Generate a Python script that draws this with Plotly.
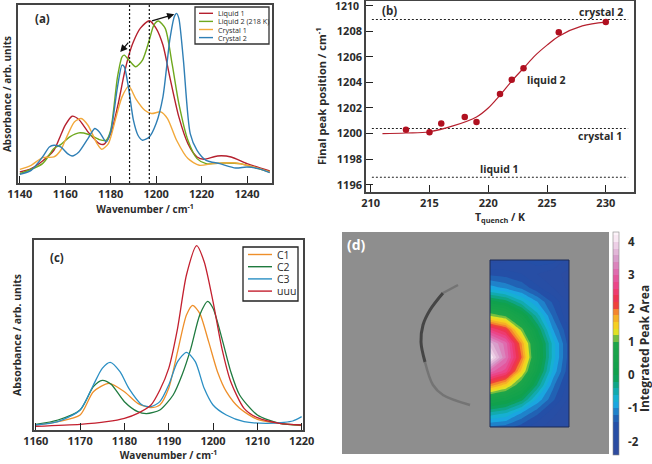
import plotly.graph_objects as go

W, H = 652, 464
FONT = "Open Sans"
INK = "#2b2b2b"

# ---------- panel (a)
a_x_l1 = [1140,1145,1150,1155,1158,1160,1163,1166,1170,1175,1177,1180,1183,1186,1188,1190,1193,1197,1200,1203,1206,1210,1214,1218,1221,1227,1233,1240,1250]
a_y_l1 = [33,43,66,98,143,173,200,190,153,118,116,148,228,328,383,423,463,486,463,413,318,198,118,78,71,81,78,58,36]
a_x_l2 = [1140,1150,1155,1158,1162,1166,1170,1175,1178,1180,1183,1185,1186,1188,1191,1194,1197,1199,1201,1204,1207,1210,1214,1218,1222,1230,1237,1245,1250]
a_y_l2 = [28,58,103,115,138,150,146,130,128,158,318,378,383,368,348,368,428,473,485,463,358,238,128,73,58,60,58,43,33]
a_x_c1 = [1140,1145,1150,1155,1158,1160,1164,1167,1170,1174,1176,1179,1182,1185,1188,1191,1195,1198,1202,1205,1209,1214,1219,1225,1235,1243,1250]
a_y_c1 = [41,53,76,78,98,128,183,193,173,118,101,118,188,258,290,253,218,208,213,193,128,73,53,58,60,48,33]
a_x_c2 = [1140,1145,1150,1153,1155,1158,1161,1163,1166,1170,1173,1175,1178,1180,1183,1185,1186,1188,1190,1192,1194,1197,1200,1203,1206,1208,1209,1210,1212,1215,1218,1222,1228,1235,1240,1245,1250]
a_y_c2 = [26,38,78,108,113,108,88,81,93,133,163,153,123,153,288,353,348,278,188,143,128,138,178,258,428,498,508,493,368,148,98,68,58,45,48,43,31]
a_names = ["Liquid 1", "Liquid 2 (218 K)", "Crystal 1", "Crystal 2"]
a_colors = ["#b5202e", "#6fa81e", "#f2a93b", "#2f7fb5"]
a_ticks = [1140, 1160, 1180, 1200, 1220, 1240]
a_vlines = [1188.3, 1197]

# ---------- panel (b)
b_temp = [213, 215, 216, 218, 219, 221, 222, 223, 226, 230]
b_peak = [1200.3, 1200.1, 1200.8, 1201.3, 1200.9, 1203.1, 1204.2, 1205.1, 1207.9, 1208.7]
b_fit_x = [211, 213, 215, 217, 219, 220, 221, 222, 223, 224, 225, 226, 228, 230]
b_fit_y = [1200.0, 1200.05, 1200.15, 1200.6, 1201.3, 1202.0, 1203.0, 1204.1, 1205.1, 1206.1, 1206.9, 1207.6, 1208.4, 1208.7]
b_levels = [1208.9, 1200.4, 1196.6]

# ---------- panel (c)
c_x_c1 = [1160,1165,1170,1173,1176.5,1180,1183,1186,1188,1190,1192,1194,1195.4,1197,1199,1201,1203,1206,1210,1215,1220]
c_y_c1 = [15,25,45,115,140,115,80,67,75,125,235,345,374,350,265,175,115,65,32,20,13]
c_x_c2 = [1160,1165,1170,1173,1175,1177,1180,1183,1185,1188,1191,1193,1195,1197,1198.8,1200,1202,1204,1206,1210,1215,1220]
c_y_c2 = [17,30,60,130,149,137,85,55,49,60,105,165,245,345,386,365,275,175,105,45,20,15]
c_x_c3 = [1160,1165,1170,1173,1175,1176.8,1179,1181,1184,1186,1188,1190,1192,1194,1196,1198,1200,1203,1207,1212,1216,1218,1220]
c_y_c3 = [15,25,60,135,185,203,175,125,75,70,85,135,205,233,205,125,75,45,25,20,23,27,40]
c_x_u = [1160,1170,1176,1180,1183,1186,1188,1190,1192,1194,1196.3,1198,1200,1202,1204,1207,1210,1215,1220]
c_y_u = [11,17,25,35,50,75,120,185,305,465,553,505,385,245,145,65,37,20,15]
c_names = ["C1", "C2", "C3", "uuu"]
c_colors = ["#ee8f2a", "#1f7a3f", "#2b8fc4", "#c3202f"]
c_ticks = [1160, 1170, 1180, 1190, 1200, 1210, 1220]

# ---------- panel (d)
d_z = [
    [-1.90,-1.85,-1.60,-1.45,-1.50,-1.90],
    [-1.45,-1.50,-1.60,-1.80,-1.95,-2.05],
    [-0.90,-1.05,-1.25,-1.55,-1.80,-2.05],
    [ 0.10,-0.10,-0.55,-1.00,-1.45,-1.85],
    [ 1.20, 0.95, 0.30,-0.50,-1.25,-1.80],
    [ 2.60, 2.20, 1.10, 0.00,-1.00,-1.60],
    [ 3.70, 3.10, 1.80, 0.35,-0.70,-1.50],
    [ 4.20, 3.20, 2.00, 0.40,-0.70,-1.50],
    [ 3.10, 2.70, 1.50, 0.20,-0.85,-1.55],
    [ 1.90, 1.50, 0.70,-0.25,-1.15,-1.70],
    [ 0.50, 0.30,-0.10,-0.85,-1.35,-1.85],
    [-0.45,-0.60,-1.00,-1.35,-1.75,-1.95],
    [-1.25,-1.30,-1.50,-1.75,-1.90,-2.00],
]
d_cols = [0, 1, 2, 3, 4, 5]
d_rows = [12, 11, 10, 9, 8, 7, 6, 5, 4, 3, 2, 1, 0]
d_scale = [
    [0.000, "#2f4a9e"], [0.150, "#2350a8"], [0.194, "#1f7fc8"], [0.239, "#18b4e8"],
    [0.300, "#10a8a0"], [0.358, "#0ea04e"], [0.515, "#1fa548"], [0.535, "#8ec63f"],
    [0.567, "#f6e81c"], [0.642, "#f59a2a"], [0.690, "#ee2f3d"], [0.761, "#ee3f80"],
    [0.821, "#e060a8"], [0.896, "#d8a0cc"], [1.000, "#fdf4fa"],
]
d_arc_x = [101, 88, 81, 79, 83]
d_arc_y = [161, 144, 129, 112, 92]
d_arc2_x = [83, 91, 101, 128]
d_arc2_y = [92, 69, 59, 49]
d_arc3_x = [116, 101]
d_arc3_y = [169, 161]


def dom_x(l, r):
    return [l / W, r / W]


def dom_y(t, b):
    return [1 - b / H, 1 - t / H]


TICK = dict(family=FONT, size=11, color=INK, weight=700)
TITLE = dict(family=FONT, size=10.5, color=INK, weight=700)
TITLE_S = dict(family=FONT, size=10, color=INK, weight=700)
fig = go.Figure()

# panel a
for x, y, n, c in zip([a_x_l1, a_x_l2, a_x_c1, a_x_c2], [a_y_l1, a_y_l2, a_y_c1, a_y_c2], a_names, a_colors):
    fig.add_trace(go.Scatter(x=x, y=y, name=n, mode="lines", xaxis="x", yaxis="y", showlegend=False,
                             line=dict(color=c, width=1.4, shape="spline", smoothing=0.7)))
for v in a_vlines:
    fig.add_trace(go.Scatter(x=[v, v], y=[0, 533], mode="lines", xaxis="x", yaxis="y", showlegend=False,
                             line=dict(color="#111", width=1.2, dash="2px,2px")))
# panel b
for v in b_levels:
    fig.add_trace(go.Scatter(x=[210.1, 231.9], y=[v, v], mode="lines", xaxis="x2", yaxis="y2", showlegend=False,
                             line=dict(color="#222", width=1.1, dash="2px,2px")))
fig.add_trace(go.Scatter(x=b_fit_x, y=b_fit_y, mode="lines", xaxis="x2", yaxis="y2", showlegend=False,
                         line=dict(color="#b5202e", width=1.2, shape="spline")))
fig.add_trace(go.Scatter(x=b_temp, y=b_peak, mode="markers", xaxis="x2", yaxis="y2", showlegend=False,
                         marker=dict(color="#b01020", size=6.5)))
# panel c
for x, y, n, c in zip([c_x_c1, c_x_c2, c_x_c3, c_x_u], [c_y_c1, c_y_c2, c_y_c3, c_y_u], c_names, c_colors):
    fig.add_trace(go.Scatter(x=x, y=y, name=n, mode="lines", xaxis="x3", yaxis="y3", showlegend=False,
                             line=dict(color=c, width=1.3, shape="spline", smoothing=0.7)))
# panel d
for x, y, w, c in [(d_arc_x, d_arc_y, 3, "#333333"), (d_arc2_x, d_arc2_y, 2.5, "#6e6e6e"), (d_arc3_x, d_arc3_y, 2.5, "#6e6e6e")]:
    fig.add_trace(go.Scatter(x=x, y=y, mode="lines", xaxis="x4", yaxis="y4", showlegend=False,
                             line=dict(color=c, width=w, shape="spline"), opacity=0.8))
fig.add_trace(go.Contour(
    x=d_cols, y=d_rows, z=d_z, xaxis="x5", yaxis="y5", colorscale=d_scale, zmin=-2.4, zmax=4.3,
    contours=dict(start=-2.4, end=4.3, size=0.2, coloring="fill", showlines=False),
    line=dict(width=0, smoothing=0),
    colorbar=dict(
        x=613 / W, xanchor="left", y=1 - 455 / H, yanchor="bottom", lenmode="pixels", len=223,
        thicknessmode="pixels", thickness=6, outlinewidth=0.6, outlinecolor="#888",
        ticks="outside", ticklen=7, tickcolor="rgba(0,0,0,0)",
        tickvals=[-2, -1, 0, 1, 2, 3, 4], ticktext=["-2", "-1", "0", "1", "2", "3", "4"],
        tickfont=dict(family=FONT, size=11.5, color=INK, weight=700), ypad=0, xpad=0,
    ),
))

frame = dict(showline=True, mirror=True, linecolor="#444", linewidth=1.6, showgrid=False, zeroline=False,
             ticks="inside", ticklen=7, tickwidth=1.2, tickcolor="#222", tickfont=TICK, automargin=False)
off = dict(visible=False, showgrid=False, zeroline=False, automargin=False)


def ann(text, x, y, size=10.5, color=INK, weight=700, anchor="left", angle=0):
    return dict(text=text, x=x / W, y=1 - y / H, xref="paper", yref="paper", showarrow=False, xanchor=anchor,
                yanchor="middle", textangle=angle, font=dict(family=FONT, size=size, color=color, weight=weight))


def arrow(x0, y0, x1, y1):
    return dict(x=x1, y=y1, ax=x0, ay=y0, xref="x", yref="y", axref="x", ayref="y", text="", showarrow=True,
                arrowhead=2, arrowsize=1.2, arrowwidth=1.2, arrowcolor="#111")


def paper_rect(l, t, r, b, **kw):
    return dict(type="rect", xref="paper", yref="paper", x0=l / W, x1=r / W, y0=1 - b / H, y1=1 - t / H, **kw)


def swatch(l, r, y, color, width=1.4):
    return dict(type="line", xref="paper", yref="paper", x0=l / W, x1=r / W, y0=1 - y / H, y1=1 - y / H,
                line=dict(color=color, width=width), layer="above")


shapes = [
    paper_rect(342, 232, 609, 454, fillcolor="#8e8e8e", line=dict(width=0), layer="below"),
    dict(type="rect", xref="x5 domain", yref="y5 domain", x0=0, x1=1, y0=0, y1=1,
         line=dict(color="#1c2a55", width=1), layer="above"),
    paper_rect(195, 7, 269, 44, fillcolor="white", line=dict(color="#333", width=1.3), layer="above"),
    paper_rect(243, 247, 298, 301, fillcolor="white", line=dict(color="#222", width=1.3), layer="above"),
]
annotations = [
    ann("(a)", 33, 19, 11.5), ann("(b)", 380, 10, 11.5), ann("(c)", 48, 257, 11.5),
    ann("(d)", 345, 244, 14, "white"),
    ann("1210", 361, 6.5, 10.5, anchor="right"),
    ann("crystal 2", 625, 12, anchor="right"), ann("crystal 1", 624, 136, anchor="right"),
    ann("liquid 2", 525, 80), ann("liquid 1", 478, 169),
    ann("Integrated Peak Area", 644, 349, 12, angle=-90, anchor="center"),
    arrow(1188.3, 425, 1184.2, 392), arrow(1197.5, 484, 1208, 505),
]
for i, (n, c) in enumerate(zip(a_names, a_colors)):
    y = 13.3 + i * 8.1
    shapes.append(swatch(199, 213, y, c))
    annotations.append(ann(n, 216, y, 7.2, weight=400))
for i, (n, c) in enumerate(zip(c_names, c_colors)):
    y = 254.5 + i * 12.2
    shapes.append(swatch(248, 272, y, c))
    annotations.append(ann(n, 275, y, 10.5, weight=400))

fig.update_layout(
    width=W, height=H, margin=dict(l=0, r=0, t=0, b=0), paper_bgcolor="white", plot_bgcolor="white",
    font=dict(family=FONT, color=INK), showlegend=False,
    xaxis={**frame, "anchor": "y", "domain": dom_x(18, 272), "range": [1139.2, 1251], "tickvals": a_ticks,
           "title": dict(text="Wavenumber / cm<sup>-1</sup>", font=TITLE_S, standoff=6)},
    yaxis={**frame, "anchor": "x", "domain": dom_y(5, 183), "range": [0, 533], "showticklabels": False, "ticks": "",
           "title": dict(text="Absorbance / arb. units", font=TITLE_S, standoff=5)},
    xaxis2={**frame, "anchor": "y2", "domain": dom_x(366, 634), "range": [209.6, 232.4], "tickvals": [210, 215, 220, 225, 230],
            "title": dict(text="T<sub>quench</sub> / K", font=TITLE, standoff=1)},
    yaxis2={**frame, "anchor": "x2", "domain": dom_y(0.5, 192), "range": [1195.45, 1210.38], "tickvals": list(range(1196, 1211, 2)),
            "title": dict(text="Final peak position / cm<sup>-1</sup>", font=dict(family=FONT, size=11, color=INK, weight=700), standoff=8)},
    xaxis3={**frame, "anchor": "y3", "domain": dom_x(34, 303), "range": [1159.6, 1220.3], "tickvals": c_ticks,
            "title": dict(text="Wavenumber / cm<sup>-1</sup>", font=TITLE_S, standoff=5)},
    yaxis3={**frame, "anchor": "x3", "domain": dom_y(240, 430), "range": [0, 570], "showticklabels": False, "ticks": "",
            "title": dict(text="Absorbance / arb. units", font=TITLE, standoff=9)},
    xaxis4={**off, "anchor": "y4", "domain": dom_x(342, 609), "range": [0, 267]},
    yaxis4={**off, "anchor": "x4", "domain": dom_y(232, 454), "range": [0, 222]},
    xaxis5={**off, "anchor": "y5", "domain": dom_x(490, 569), "range": [0, 5]},
    yaxis5={**off, "anchor": "x5", "domain": dom_y(260, 427), "range": [0, 12]},
    shapes=shapes,
    annotations=annotations,
)
fig.write_html("out.html", config={"displayModeBar": False}, post_script="document.body.style.margin='0';")
